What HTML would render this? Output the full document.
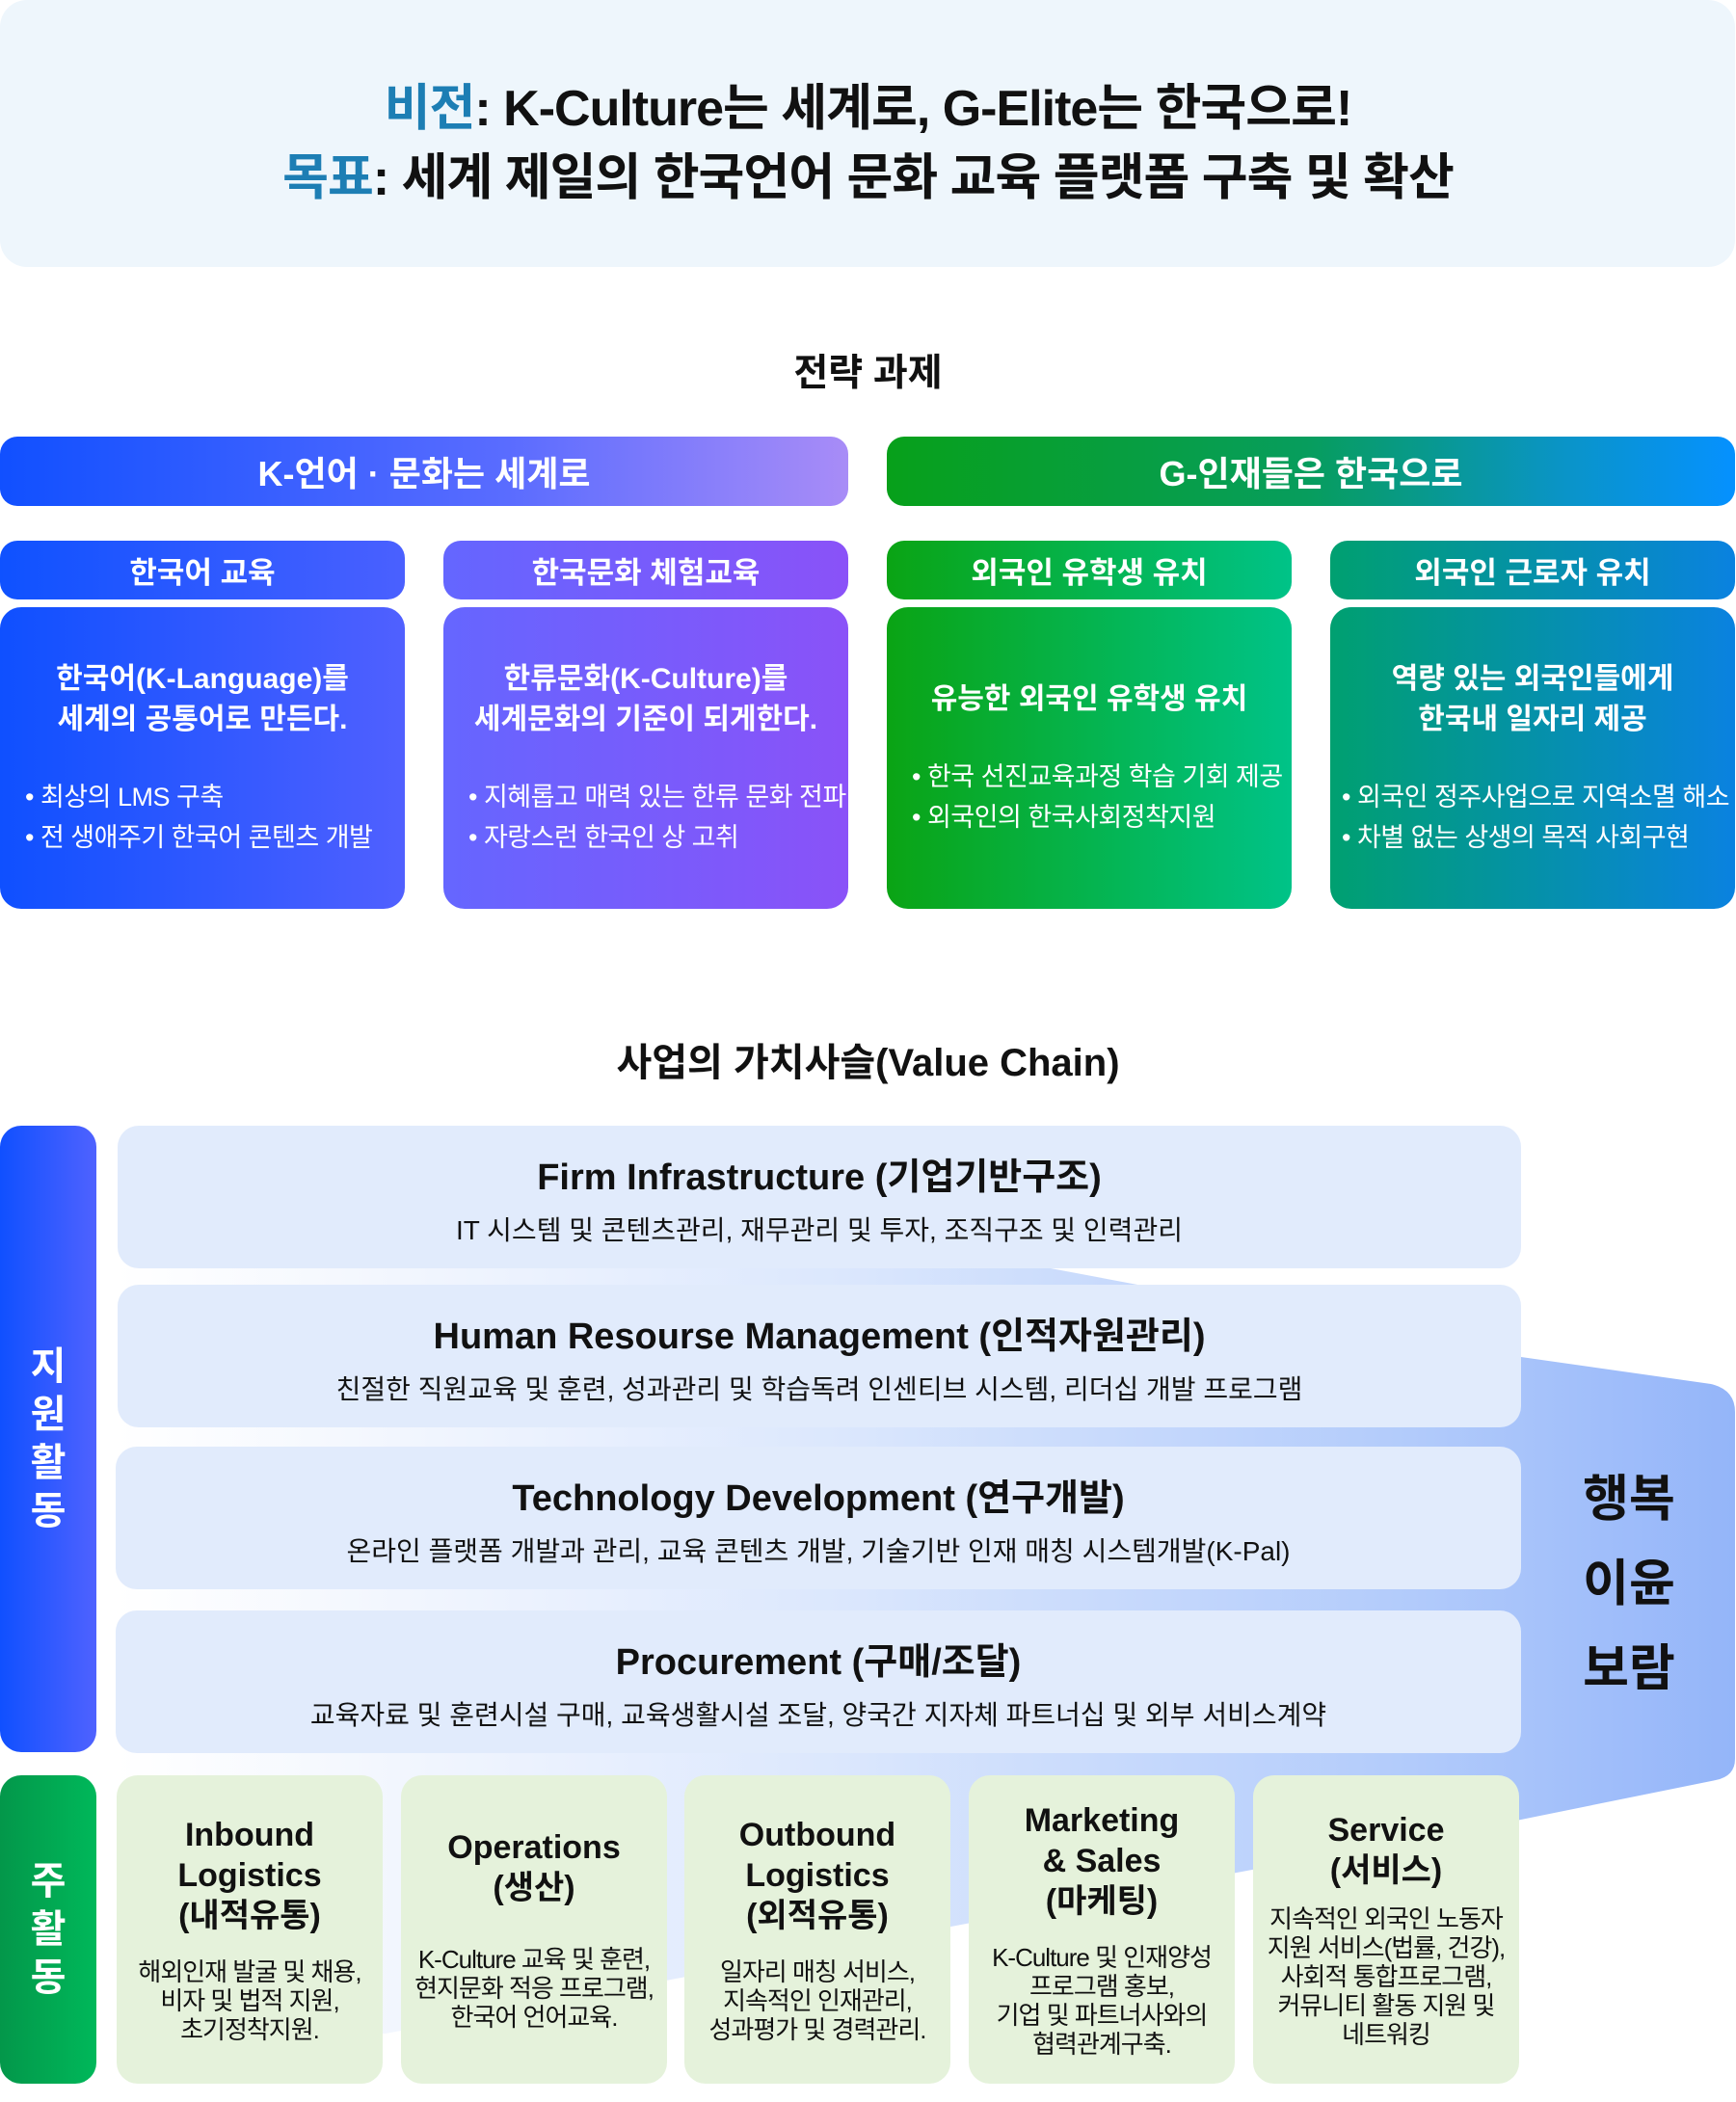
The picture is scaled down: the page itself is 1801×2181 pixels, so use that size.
<!DOCTYPE html>
<html><head><meta charset="utf-8">
<style>
*{margin:0;padding:0;box-sizing:border-box}
body{width:1801px;height:2181px;background:#fff;position:relative;overflow:hidden;font-family:"Liberation Sans","Noto Sans CJK KR",sans-serif;color:#111}
.a{position:absolute}
.c{display:flex;flex-direction:column;align-items:center;justify-content:center;text-align:center}
.hd{font-weight:700;font-size:52px;letter-spacing:-1px;left:0;width:1801px;text-align:center}
.ban{color:#fff;font-weight:700;font-size:36px;border-radius:18px;height:72px;top:453px}
.sub{color:#fff;font-weight:700;font-size:31px;border-radius:18px;height:61px;top:561px;width:420px}
.card{color:#fff;border-radius:22px;top:630px;width:420px;height:313px;padding:0 14px}
.card .m{font-size:30px;font-weight:700;line-height:42px}
.card ul{list-style:none;text-align:left;font-size:27px;line-height:42px;margin-top:38px;align-self:flex-start;padding-left:12px;white-space:nowrap;letter-spacing:-0.5px}
.row{left:122px;width:1456px;height:148px;background:#e1ebfc;border-radius:22px}
.row .t{font-size:38px;font-weight:700}
.row .s{font-size:28px;margin-top:10px}
.pr{top:1842px;width:276px;height:320px;background:#e5f2db;border-radius:22px;padding:18px 6px}
.pr .t{font-size:34px;font-weight:700;line-height:42px}
.pr .s{font-size:26px;line-height:30px;letter-spacing:-1px;margin-top:22px}
.side{color:#fff;font-weight:700;font-size:40px;line-height:50px;width:100px;left:0;border-radius:22px}
</style></head><body>
<div class="a" style="left:0;top:0;width:1800px;height:277px;background:#eef6fc;border-radius:28px"></div>
<div class="a hd" style="top:70px">
<span style="color:#1d7eb4">비전</span>: K-Culture는 세계로, G-Elite는 한국으로!</div>
<div class="a hd" style="top:142px"><span style="color:#1d7eb4">목표</span>: 세계 제일의 한국언어 문화 교육 플랫폼 구축 및 확산</div>
<div class="a" style="left:0;width:1801px;text-align:center;top:356px;font-size:39px;font-weight:700">전략 과제</div>

<div class="a c ban" style="left:0;width:880px;background:linear-gradient(90deg,#1150ff,#5a6cff 60%,#a88cf7)">K-언어 · 문화는 세계로</div>
<div class="a c ban" style="left:920px;width:880px;background:linear-gradient(90deg,#07a01a,#079d5e 50%,#0a94c8 80%,#0591ff)">G-인재들은 한국으로</div>

<div class="a c sub" style="left:0;background:linear-gradient(90deg,#0f52ff,#4a60ff)">한국어 교육</div>
<div class="a c sub" style="left:460px;background:linear-gradient(90deg,#6466ff,#8a52f8)">한국문화 체험교육</div>
<div class="a c sub" style="left:920px;background:linear-gradient(90deg,#0aa414,#00c388)">외국인 유학생 유치</div>
<div class="a c sub" style="left:1380px;background:linear-gradient(90deg,#00a070,#0a82e0)">외국인 근로자 유치</div>

<div class="a c card" style="left:0;background:linear-gradient(90deg,#0f50ff,#5060ff)">
<div class="m">한국어(K-Language)를<br>세계의 공통어로 만든다.</div>
<ul><li>• 최상의 LMS 구축</li><li>• 전 생애주기 한국어 콘텐츠 개발</li></ul></div>
<div class="a c card" style="left:460px;background:linear-gradient(90deg,#6566ff,#8a52f8)">
<div class="m">한류문화(K-Culture)를<br>세계문화의 기준이 되게한다.</div>
<ul><li>• 지혜롭고 매력 있는 한류 문화 전파</li><li>• 자랑스런 한국인 상 고취</li></ul></div>
<div class="a c card" style="left:920px;background:linear-gradient(90deg,#0aa414,#00c388)">
<div class="m">유능한 외국인 유학생 유치</div>
<ul><li>• 한국 선진교육과정 학습 기회 제공</li><li>• 외국인의 한국사회정착지원</li></ul></div>
<div class="a c card" style="left:1380px;background:linear-gradient(90deg,#00a070,#0a82e0);padding:0 4px">
<div class="m">역량 있는 외국인들에게<br>한국내 일자리 제공</div>
<ul style="padding-left:8px"><li>• 외국인 정주사업으로 지역소멸 해소</li><li>• 차별 없는 상생의  목적 사회구현</li></ul></div>

<div class="a" style="left:0;width:1801px;text-align:center;top:1070px;font-size:40px;font-weight:700">사업의 가치사슬(Value Chain)</div>

<svg class="a" style="left:0;top:0" width="1801" height="2181">
<defs><linearGradient id="g" x1="120" y1="0" x2="1800" y2="0" gradientUnits="userSpaceOnUse">
<stop offset="0" stop-color="#dfe9fd" stop-opacity="0"/><stop offset="0.45" stop-color="#dbe7fd"/><stop offset="0.8" stop-color="#b2cbfb"/><stop offset="1" stop-color="#94b5f9"/></linearGradient></defs>
<path d="M120 1316 L1090 1316 L1578 1408 L1775 1436 Q1800 1442 1800 1465 L1800 1825 Q1800 1843 1780 1847 L1578 1888 L1283 1943 L400 2110 L120 2110 Z" fill="url(#g)"/>
</svg>

<div class="a c side" style="top:1168px;height:650px;background:linear-gradient(90deg,#1050ff,#4f62ff)">지<br>원<br>활<br>동</div>
<div class="a c side" style="top:1842px;height:320px;background:linear-gradient(90deg,#03974a,#00b85a)">주<br>활<br>동</div>

<div class="a c row" style="top:1168px"><div class="t">Firm Infrastructure (기업기반구조)</div><div class="s">IT 시스템 및 콘텐츠관리, 재무관리 및 투자, 조직구조 및 인력관리</div></div>
<div class="a c row" style="top:1333px"><div class="t">Human Resourse Management (인적자원관리)</div><div class="s">친절한 직원교육 및 훈련, 성과관리 및 학습독려 인센티브 시스템, 리더십 개발 프로그램</div></div>
<div class="a c row" style="top:1501px;left:120px;width:1458px"><div class="t">Technology Development (연구개발)</div><div class="s">온라인 플랫폼 개발과 관리, 교육 콘텐츠 개발, 기술기반 인재 매칭 시스템개발(K-Pal)</div></div>
<div class="a c row" style="top:1671px;left:120px;width:1458px"><div class="t">Procurement (구매/조달)</div><div class="s">교육자료 및 훈련시설 구매, 교육생활시설 조달, 양국간 지자체 파트너십 및 외부 서비스계약</div></div>

<div class="a" style="left:1630px;width:120px;top:1512px;font-size:52px;font-weight:700;line-height:88px;text-align:center">행복<br>이윤<br>보람</div>

<div class="a c pr" style="left:121px"><div class="t">Inbound<br>Logistics<br>(내적유통)</div><div class="s">해외인재 발굴 및 채용,<br>비자 및 법적 지원,<br>초기정착지원.</div></div>
<div class="a c pr" style="left:416px"><div class="t">Operations<br>(생산)</div><div class="s" style="margin-top:38px">K-Culture 교육 및 훈련,<br>현지문화 적응 프로그램,<br>한국어 언어교육.</div></div>
<div class="a c pr" style="left:710px"><div class="t">Outbound<br>Logistics<br>(외적유통)</div><div class="s">일자리 매칭 서비스,<br>지속적인 인재관리,<br>성과평가 및 경력관리.</div></div>
<div class="a c pr" style="left:1005px"><div class="t">Marketing<br>&amp; Sales<br>(마케팅)</div><div class="s">K-Culture 및 인재양성<br>프로그램 홍보,<br>기업 및 파트너사와의<br>협력관계구축.</div></div>
<div class="a c pr" style="left:1300px"><div class="t">Service<br>(서비스)</div><div class="s" style="margin-top:14px">지속적인 외국인 노동자<br>지원 서비스(법률, 건강),<br>사회적 통합프로그램,<br>커뮤니티 활동 지원 및<br>네트워킹</div></div>
</body></html>
